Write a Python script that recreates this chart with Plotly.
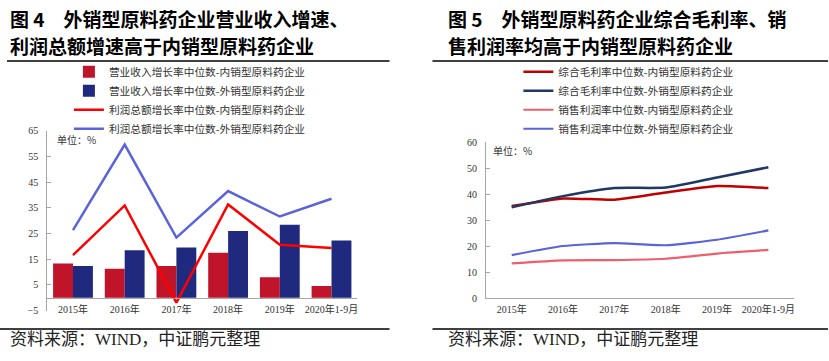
import plotly.graph_objects as go

W, H = 829, 361

# ---------------- data ----------------
years = ["2015年", "2016年", "2017年", "2018年", "2019年", "2020年1-9月"]

# Figure 4 (growth rates, %)
rev_dom = [13.3, 11.3, 12.3, 17.5, 8.0, 4.5]        # 营业收入增长率中位数-内销型
rev_exp = [12.3, 18.5, 19.5, 26.0, 28.4, 22.3]      # 营业收入增长率中位数-外销型
profit_dom = [16.6, 35.9, -1.9, 36.3, 20.6, 19.3]   # 利润总额增长率中位数-内销型
profit_exp = [26.3, 59.6, 23.4, 41.5, 31.6, 38.5]   # 利润总额增长率中位数-外销型
left_ticks = [-5, 5, 15, 25, 35, 45, 55, 65]

# Figure 5 (margins, %)
gm_dom = [35.5, 38.4, 37.9, 40.7, 43.2, 42.4]       # 综合毛利率中位数-内销型
gm_exp = [35.0, 39.3, 42.4, 42.6, 46.5, 50.4]       # 综合毛利率中位数-外销型
npm_dom = [13.4, 14.6, 14.7, 15.2, 17.2, 18.6]      # 销售利润率中位数-内销型
npm_exp = [16.6, 20.1, 21.2, 20.4, 22.5, 26.1]      # 销售利润率中位数-外销型
right_ticks = [0, 10, 20, 30, 40, 50, 60]


def px(x):
    return x / W


def py(y):
    return 1 - y / H


SERIF = "Liberation Serif, Noto Sans CJK SC, serif"
SANS = "Noto Sans CJK SC, sans-serif"
AXIS_C = "#a6a6a6"

fig = go.Figure()

# ---- left chart ----
fig.add_trace(go.Bar(x=years, y=rev_dom, name="营业收入增长率中位数-内销型原料药企业",
                     marker=dict(color="#C0142A", line=dict(width=0)), xaxis="x", yaxis="y",
                     offsetgroup="a", legend="legend"))
fig.add_trace(go.Bar(x=years, y=rev_exp, name="营业收入增长率中位数-外销型原料药企业",
                     marker=dict(color="#1F2A7E", line=dict(width=0)), xaxis="x", yaxis="y",
                     offsetgroup="b", legend="legend"))
fig.add_trace(go.Scatter(x=years, y=profit_dom, name="利润总额增长率中位数-内销型原料药企业",
                         mode="lines", line=dict(color="#FF0000", width=2.5), xaxis="x", yaxis="y",
                         legend="legend"))
fig.add_trace(go.Scatter(x=years, y=profit_exp, name="利润总额增长率中位数-外销型原料药企业",
                         mode="lines", line=dict(color="#5A63D8", width=2.5), xaxis="x", yaxis="y",
                         legend="legend"))

# ---- right chart ----
fig.add_trace(go.Scatter(x=years, y=gm_dom, name="综合毛利率中位数-内销型原料药企业",
                         mode="lines", line=dict(color="#C00000", width=2.5, shape="spline", smoothing=0.5),
                         xaxis="x2", yaxis="y2", legend="legend2"))
fig.add_trace(go.Scatter(x=years, y=gm_exp, name="综合毛利率中位数-外销型原料药企业",
                         mode="lines", line=dict(color="#1F3864", width=2.5, shape="spline", smoothing=0.5),
                         xaxis="x2", yaxis="y2", legend="legend2"))
fig.add_trace(go.Scatter(x=years, y=npm_dom, name="销售利润率中位数-内销型原料药企业",
                         mode="lines", line=dict(color="#EE5F6E", width=2.2, shape="spline", smoothing=0.5),
                         xaxis="x2", yaxis="y2", legend="legend2"))
fig.add_trace(go.Scatter(x=years, y=npm_exp, name="销售利润率中位数-外销型原料药企业",
                         mode="lines", line=dict(color="#5A63D8", width=2.2, shape="spline", smoothing=0.5),
                         xaxis="x2", yaxis="y2", legend="legend2"))

tickfont = dict(family=SERIF, size=10, color="#333333")
legfont = dict(family=SANS, size=10.7, color="#333333")

fig.update_layout(
    width=W, height=H,
    margin=dict(l=0, r=0, t=0, b=0),
    paper_bgcolor="white", plot_bgcolor="rgba(0,0,0,0)",
    barmode="group", bargap=0.23, bargroupgap=0,
    xaxis=dict(domain=[px(47.2), px(357.8)], anchor="free", position=py(301.7),
               type="category", range=[-0.5, 5.5], showline=True, linecolor=AXIS_C, linewidth=1,
               ticks="", showgrid=False, zeroline=False, tickfont=tickfont, ticklabelstandoff=2),
    yaxis=dict(domain=[py(315), py(129)], anchor="x", range=[-5, 65], tickvals=left_ticks,
               showline=True, linecolor=AXIS_C, linewidth=1, ticks="inside", ticklen=4,
               tickcolor=AXIS_C, showgrid=False, zeroline=False, tickfont=tickfont,
               ticklabelstandoff=6),
    xaxis2=dict(domain=[px(486.6), px(795)], anchor="y2", type="category", range=[-0.5, 5.5],
                showline=True, linecolor=AXIS_C, linewidth=1, ticks="", showgrid=False,
                zeroline=False, tickfont=tickfont, ticklabelstandoff=2),
    yaxis2=dict(domain=[py(302.3), py(141)], anchor="x2", range=[0, 60], tickvals=right_ticks,
                showline=True, linecolor=AXIS_C, linewidth=1, ticks="inside", ticklen=4,
                tickcolor=AXIS_C, showgrid=False, zeroline=False, tickfont=tickfont,
                ticklabelstandoff=6),
    legend=dict(x=px(69), y=py(53), xanchor="left", yanchor="top", bgcolor="rgba(0,0,0,0)",
                font=legfont, tracegroupgap=0, traceorder="normal"),
    legend2=dict(x=px(519), y=py(53), xanchor="left", yanchor="top", bgcolor="rgba(0,0,0,0)",
                 font=legfont, tracegroupgap=0, traceorder="normal"),
    showlegend=True,
)

annotations = [
    dict(text="<b>图 4　外销型原料药企业营业收入增速、</b>", x=px(8), y=py(13)),
    dict(text="<b>利润总额增速高于内销型原料药企业</b>", x=px(8), y=py(41)),
    dict(text="<b>图 5　外销型原料药企业综合毛利率、销</b>", x=px(447), y=py(13)),
    dict(text="<b>售利润率均高于内销型原料药企业</b>", x=px(447), y=py(41)),
]
for a in annotations:
    a.update(xref="paper", yref="paper", xanchor="left", yanchor="middle", showarrow=False,
             font=dict(family=SANS, size=19, color="#000000"))

for xx in (8, 447):
    annotations.append(dict(text="资料来源：WIND，中证鹏元整理", x=px(xx), y=py(345),
                            xref="paper", yref="paper", xanchor="left", yanchor="middle",
                            showarrow=False, font=dict(family=SERIF, size=17, color="#222222")))

annotations.append(dict(text="单位：%", x=px(55), y=py(138), xref="paper", yref="paper",
                        xanchor="left", yanchor="middle", showarrow=False,
                        font=dict(family=SANS, size=10, color="#333333")))
annotations.append(dict(text="单位：%", x=px(492), y=py(149), xref="paper", yref="paper",
                        xanchor="left", yanchor="middle", showarrow=False,
                        font=dict(family=SANS, size=10, color="#333333")))
fig.update_layout(annotations=annotations)

shapes = []
for (x0, x1, y) in [(7, 390, 57), (433, 829, 57), (0, 390, 334), (433, 829, 334)]:
    shapes.append(dict(type="line", xref="paper", yref="paper", x0=px(x0), x1=px(x1),
                       y0=py(y), y1=py(y), line=dict(color="#000000", width=1.5)))
fig.update_layout(shapes=shapes)

# remove the default 8px page margin so the figure sits at the window's top-left corner
fig.write_html("out.html", config={"displayModeBar": False},
               post_script="document.body.style.margin='0';")
